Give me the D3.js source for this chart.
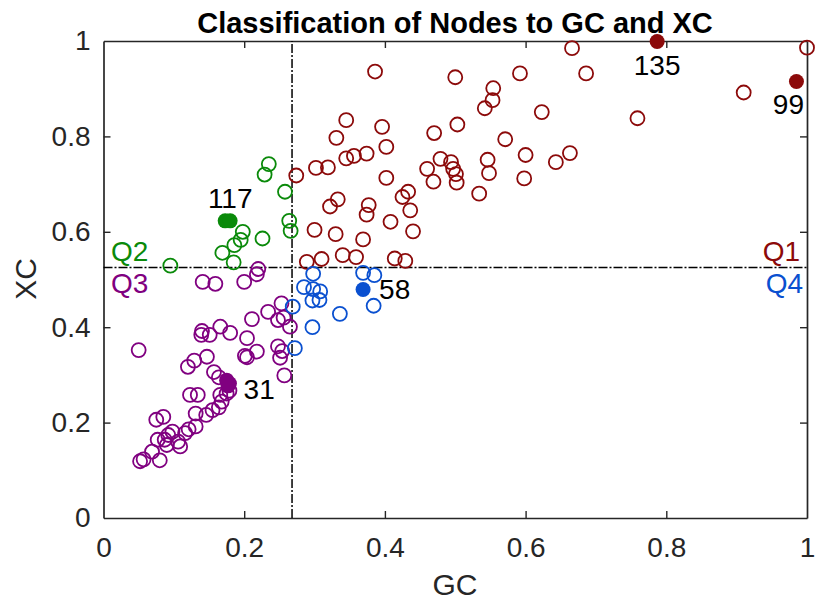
<!DOCTYPE html>
<html>
<head>
<meta charset="utf-8">
<script src="https://cdn.jsdelivr.net/npm/d3@7"></script>
<style>
  body { margin: 0; background: #fff; }
  svg { font-family: "Liberation Sans", Arial, Helvetica, sans-serif; }
</style>
</head>
<body>
<svg id="chart"></svg>
<script>
// quadrant thresholds
const gcThreshold = 0.268;
const xcThreshold = 0.525;

const xTicks = [0, 0.2, 0.4, 0.6, 0.8, 1];
const yTicks = [0, 0.2, 0.4, 0.6, 0.8, 1];

// [GC, XC] for each node, by quadrant
const q1Nodes = [
  [0.386, 0.936], [0.500, 0.924], [0.345, 0.834], [0.396, 0.820], [0.503, 0.825],
  [0.331, 0.797], [0.470, 0.807], [0.402, 0.778], [0.374, 0.764], [0.356, 0.759],
  [0.345, 0.754], [0.479, 0.753], [0.494, 0.746], [0.302, 0.734], [0.319, 0.735],
  [0.460, 0.732], [0.497, 0.732], [0.501, 0.721], [0.274, 0.718], [0.402, 0.713],
  [0.469, 0.705], [0.502, 0.703], [0.433, 0.684], [0.425, 0.673], [0.333, 0.668],
  [0.322, 0.653], [0.377, 0.656], [0.374, 0.636], [0.436, 0.645], [0.408, 0.621],
  [0.300, 0.604], [0.330, 0.595], [0.440, 0.601], [0.369, 0.584], [0.289, 0.537],
  [0.310, 0.543], [0.340, 0.551], [0.359, 0.547], [0.414, 0.544], [0.429, 0.539],
  [0.666, 0.985], [1.000, 0.986], [0.910, 0.892], [0.592, 0.932], [0.686, 0.932],
  [0.554, 0.901], [0.553, 0.876], [0.542, 0.859], [0.623, 0.851], [0.759, 0.838],
  [0.571, 0.794], [0.600, 0.761], [0.663, 0.765], [0.643, 0.746], [0.546, 0.751],
  [0.548, 0.723], [0.598, 0.712], [0.534, 0.680]
];

const q2Nodes = [
  [0.235, 0.742], [0.229, 0.720], [0.258, 0.684], [0.264, 0.623], [0.266, 0.602],
  [0.198, 0.600], [0.195, 0.583], [0.226, 0.586], [0.186, 0.572], [0.169, 0.556],
  [0.185, 0.536], [0.095, 0.529]
];

const q3Nodes = [
  [0.141, 0.495], [0.159, 0.491], [0.200, 0.495], [0.218, 0.511], [0.220, 0.522],
  [0.234, 0.432], [0.253, 0.450], [0.211, 0.417], [0.248, 0.415], [0.256, 0.420],
  [0.265, 0.401], [0.140, 0.392], [0.139, 0.384], [0.151, 0.384], [0.166, 0.401],
  [0.180, 0.388], [0.204, 0.377], [0.050, 0.352], [0.201, 0.340], [0.204, 0.337],
  [0.218, 0.349], [0.248, 0.360], [0.254, 0.350], [0.251, 0.336], [0.147, 0.338],
  [0.129, 0.330], [0.120, 0.317], [0.257, 0.299], [0.157, 0.306], [0.164, 0.295],
  [0.123, 0.258], [0.134, 0.258], [0.166, 0.258], [0.175, 0.261], [0.179, 0.267],
  [0.168, 0.244], [0.164, 0.232], [0.155, 0.226], [0.146, 0.216], [0.131, 0.219],
  [0.075, 0.206], [0.085, 0.212], [0.131, 0.192], [0.121, 0.186], [0.116, 0.178],
  [0.098, 0.181], [0.092, 0.174], [0.087, 0.164], [0.077, 0.164], [0.106, 0.160],
  [0.109, 0.150], [0.090, 0.153], [0.069, 0.139], [0.080, 0.121], [0.057, 0.123],
  [0.052, 0.119]
];

const q4Nodes = [
  [0.298, 0.512], [0.369, 0.514], [0.385, 0.509], [0.285, 0.484], [0.298, 0.480],
  [0.308, 0.475], [0.307, 0.457], [0.297, 0.456], [0.384, 0.445], [0.336, 0.428],
  [0.269, 0.443], [0.297, 0.400], [0.272, 0.356]
];

// highlighted nodes (filled markers)
const keyNodes = [
  { id: "135", q: "Q1", gc: 0.787, xc: 0.999 },
  { id: "99",  q: "Q1", gc: 0.985, xc: 0.915 },
  { id: "117", q: "Q2", gc: 0.173, xc: 0.623 },
  { id: "117", q: "Q2", gc: 0.180, xc: 0.623 },
  { id: "31",  q: "Q3", gc: 0.175, xc: 0.289 },
  { id: "31",  q: "Q3", gc: 0.179, xc: 0.282 },
  { id: "31",  q: "Q3", gc: 0.177, xc: 0.277 },
  { id: "58",  q: "Q4", gc: 0.369, xc: 0.479 }
];

const colors = { Q1: "#8c0a0a", Q2: "#0a8a0a", Q3: "#800080", Q4: "#0a50d0" };

// label placement next to each highlighted node (pixels)
const labelOffset = {
  "135": { dx: 0,  dy: 34, anchor: "middle" },
  "99":  { dx: -8, dy: 32, anchor: "middle" },
  "117": { dx: 5,  dy: -13, anchor: "middle" },
  "58":  { dx: 16, dy: 9,  anchor: "start" },
  "31":  { dx: 17, dy: 19, anchor: "start" }
};

const W = 817, H = 607;
const svg = d3.select("#chart").attr("width", W).attr("height", H);

const x = d3.scaleLinear().domain([0, 1]).range([103.5, 807]);
const y = d3.scaleLinear().domain([0, 1]).range([518, 41]);

const axisColor = "#262626";
const fmt = d3.format("~g");

// axes (MATLAB box with inward ticks)
const gx = svg.append("g").attr("transform", `translate(0,${y(0)})`)
  .call(d3.axisBottom(x).tickValues(xTicks).tickFormat(fmt).tickSizeInner(-7).tickSizeOuter(0).tickPadding(19));
const gy = svg.append("g").attr("transform", `translate(${x(0)},0)`)
  .call(d3.axisLeft(y).tickValues(yTicks).tickFormat(fmt).tickSizeInner(-7).tickSizeOuter(0).tickPadding(13));
const gt = svg.append("g").attr("transform", `translate(0,${y(1)})`)
  .call(d3.axisTop(x).tickValues(xTicks).tickFormat("").tickSizeInner(-7).tickSizeOuter(0));
const gr = svg.append("g").attr("transform", `translate(${x(1)},0)`)
  .call(d3.axisRight(y).tickValues(yTicks).tickFormat("").tickSizeInner(-7).tickSizeOuter(0));

[gx, gy, gt, gr].forEach(g => {
  g.select(".domain").attr("stroke", axisColor).attr("stroke-width", 1.7);
  g.selectAll(".tick line").attr("stroke", axisColor).attr("stroke-width", 1.4);
  g.selectAll(".tick text").attr("fill", axisColor).style("font-size", "28px");
});
// hide end ticks that sit on the box corners
[gx, gy, gt, gr].forEach(g => g.selectAll(".tick line").filter(d => d === 0 || d === 1).remove());

// threshold lines
svg.append("line")
  .attr("x1", x(gcThreshold)).attr("x2", x(gcThreshold))
  .attr("y1", y(0)).attr("y2", y(1))
  .attr("stroke", "#000").attr("stroke-width", 1.5).attr("stroke-dasharray", "9,2,2,2");
svg.append("line")
  .attr("x1", x(0)).attr("x2", x(1))
  .attr("y1", y(xcThreshold)).attr("y2", y(xcThreshold))
  .attr("stroke", "#000").attr("stroke-width", 1.5).attr("stroke-dasharray", "9,2,2,2");

// open markers
const groups = [["Q1", q1Nodes], ["Q2", q2Nodes], ["Q3", q3Nodes], ["Q4", q4Nodes]];
groups.forEach(([q, pts]) => {
  svg.append("g").selectAll("circle")
    .data(pts)
    .enter().append("circle")
      .attr("cx", d => x(d[0]))
      .attr("cy", d => y(d[1]))
      .attr("r", 7)
      .attr("fill", "none")
      .attr("stroke", colors[q])
      .attr("stroke-width", 1.8);
});

// filled markers
svg.append("g").selectAll("circle")
  .data(keyNodes)
  .enter().append("circle")
    .attr("cx", d => x(d.gc))
    .attr("cy", d => y(d.xc))
    .attr("r", 7.5)
    .attr("fill", d => colors[d.q]);

// node labels
const labelled = keyNodes.filter((d, i) => keyNodes.findIndex(k => k.id === d.id) === i);
svg.append("g").selectAll("text")
  .data(labelled)
  .enter().append("text")
    .attr("x", d => x(d.gc) + labelOffset[d.id].dx)
    .attr("y", d => y(d.xc) + labelOffset[d.id].dy)
    .attr("text-anchor", d => labelOffset[d.id].anchor)
    .style("font-size", "28px")
    .attr("fill", "#000")
    .text(d => d.id);

// quadrant labels
const quadLabels = [
  { t: "Q1", x: 800, y: 261, anchor: "end" },
  { t: "Q2", x: 111, y: 261, anchor: "start" },
  { t: "Q3", x: 111, y: 293, anchor: "start" },
  { t: "Q4", x: 803, y: 293, anchor: "end" }
];
svg.append("g").selectAll("text")
  .data(quadLabels)
  .enter().append("text")
    .attr("x", d => d.x).attr("y", d => d.y)
    .attr("text-anchor", d => d.anchor)
    .attr("fill", d => colors[d.t])
    .style("font-size", "28px")
    .text(d => d.t);

// title and axis labels
svg.append("text")
  .attr("x", 455).attr("y", 33)
  .attr("text-anchor", "middle")
  .style("font-size", "29px").style("font-weight", "bold")
  .text("Classification of Nodes to GC and XC");

svg.append("text")
  .attr("x", 455).attr("y", 595)
  .attr("text-anchor", "middle")
  .attr("fill", axisColor)
  .style("font-size", "30px")
  .text("GC");

svg.append("text")
  .attr("transform", "translate(36,279) rotate(-90)")
  .attr("text-anchor", "middle")
  .attr("fill", axisColor)
  .style("font-size", "30px")
  .text("XC");
</script>
</body>
</html>
